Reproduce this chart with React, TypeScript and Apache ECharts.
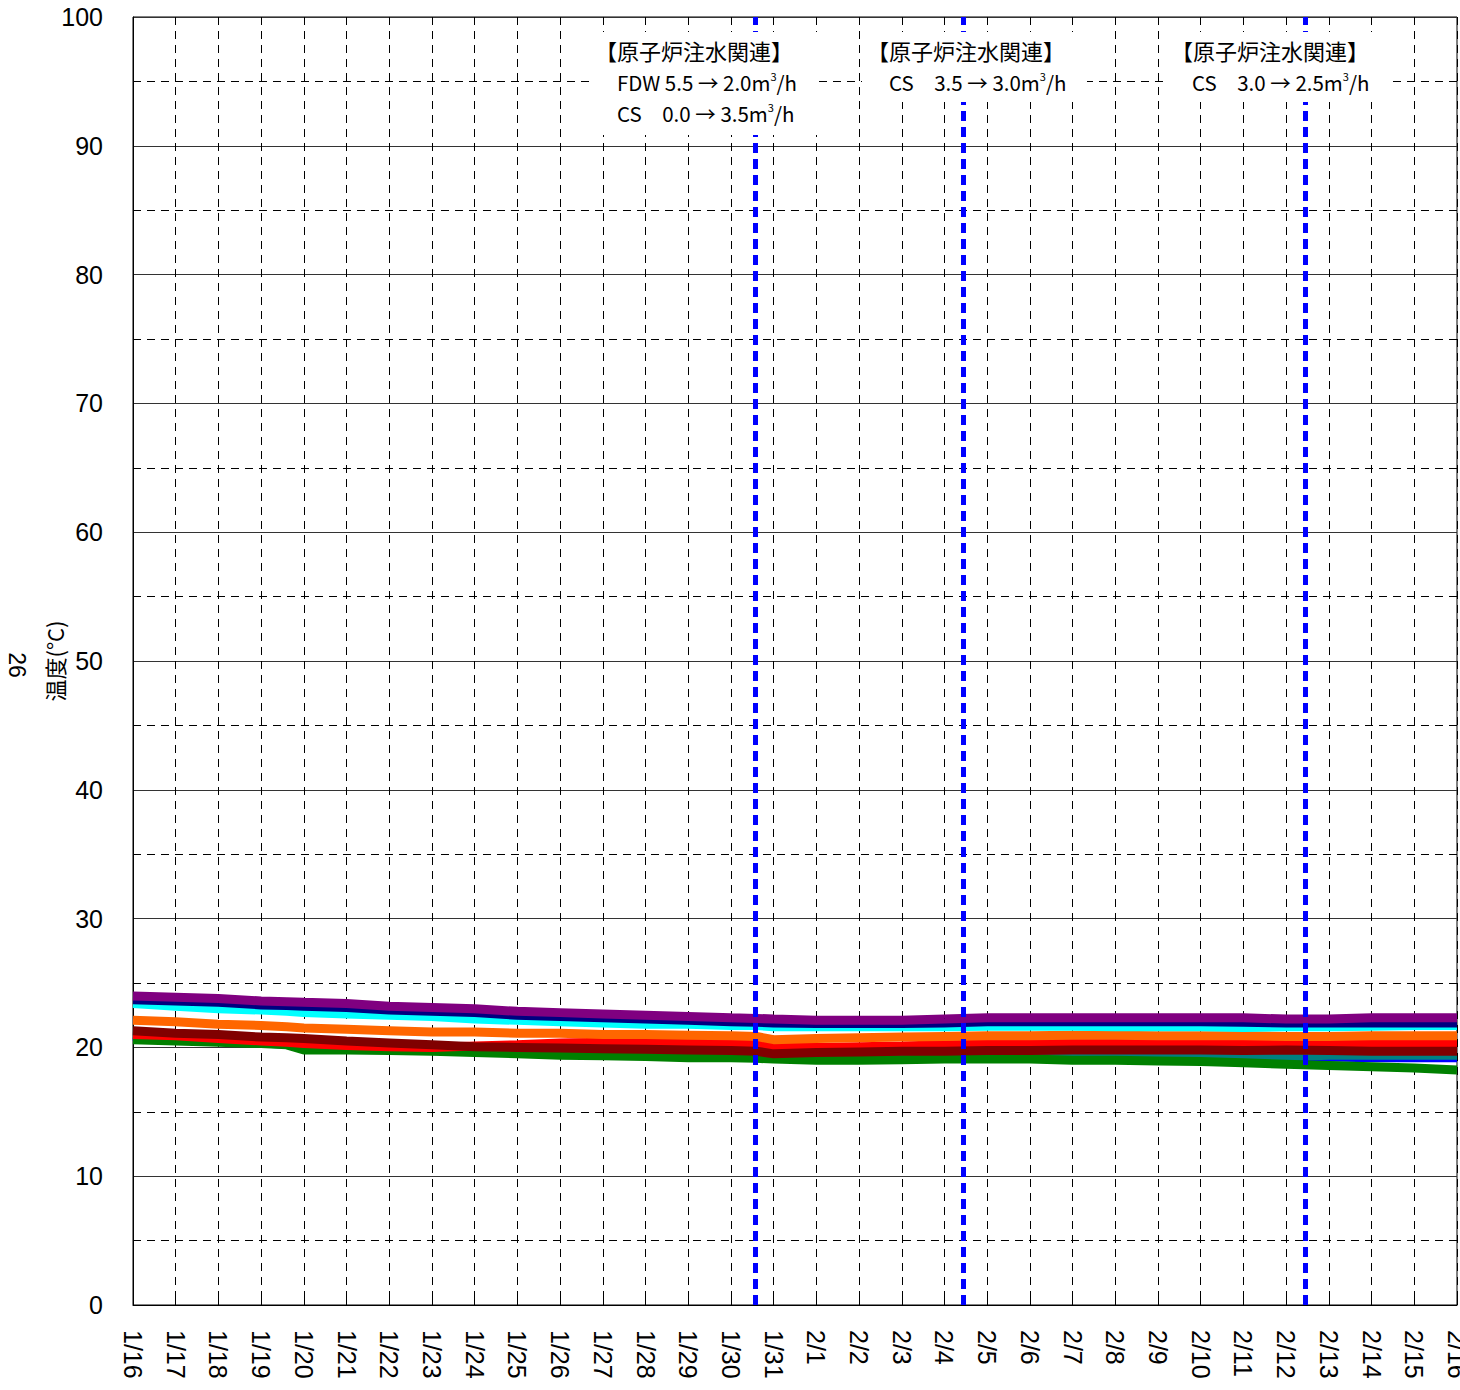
import React, { useEffect, useRef } from "react";
import * as echarts from "echarts";

const dateLabels = [
  "1/16", "1/17", "1/18", "1/19", "1/20", "1/21", "1/22", "1/23", "1/24", "1/25", "1/26",
  "1/27", "1/28", "1/29", "1/30", "1/31", "2/1", "2/2", "2/3", "2/4", "2/5", "2/6",
  "2/7", "2/8", "2/9", "2/10", "2/11", "2/12", "2/13", "2/14", "2/15", "2/16",
];

const sampleDays = [
  0, 1, 2, 3, 3.6, 4, 5, 6, 7, 8, 9, 10, 11, 12, 13, 14, 14.6, 15, 16, 17, 18, 19, 20,
  21, 22, 23, 24, 25, 26, 27, 28, 29, 30, 31,
];

const purple = [24.0, 23.9, 23.8, 23.6, 23.55, 23.5, 23.4, 23.2, 23.1, 23.0, 22.8, 22.7, 22.6, 22.5, 22.4, 22.3, 22.25, 22.2, 22.1, 22.1, 22.1, 22.2, 22.3, 22.3, 22.3, 22.3, 22.3, 22.3, 22.3, 22.2, 22.2, 22.3, 22.3, 22.3];
const navy = [23.7, 23.6, 23.5, 23.3, 23.25, 23.2, 23.1, 22.9, 22.8, 22.7, 22.5, 22.4, 22.3, 22.2, 22.1, 22.0, 21.95, 21.9, 21.85, 21.85, 21.85, 21.9, 22.0, 22.0, 22.0, 22.0, 22.0, 22.0, 21.95, 21.9, 21.9, 21.9, 21.9, 21.9];
const cyan = [23.4, 23.2, 23.0, 22.9, 22.8, 22.7, 22.6, 22.5, 22.4, 22.2, 22.1, 22.0, 21.9, 21.8, 21.8, 21.7, 21.7, 21.6, 21.6, 21.6, 21.6, 21.6, 21.65, 21.65, 21.65, 21.6, 21.6, 21.6, 21.55, 21.6, 21.6, 21.65, 21.7, 21.7];
const orange = [22.1, 22.0, 21.8, 21.7, 21.6, 21.5, 21.4, 21.3, 21.2, 21.2, 21.1, 21.1, 21.0, 21.0, 20.95, 20.9, 20.85, 20.6, 20.7, 20.75, 20.8, 20.85, 20.9, 20.9, 20.95, 20.95, 20.9, 20.9, 20.9, 20.85, 20.85, 20.9, 20.9, 20.9];
const red = [21.0, 20.9, 20.7, 20.5, 20.4, 20.3, 20.15, 20.05, 20.0, 20.1, 20.2, 20.35, 20.4, 20.4, 20.4, 20.35, 20.3, 20.0, 20.0, 20.05, 20.1, 20.2, 20.25, 20.3, 20.35, 20.35, 20.35, 20.4, 20.35, 20.35, 20.3, 20.3, 20.3, 20.3];
const darkRed = [21.3, 21.1, 21.0, 20.8, 20.75, 20.7, 20.5, 20.35, 20.2, 20.05, 20.0, 19.95, 19.9, 19.85, 19.8, 19.75, 19.7, 19.5, 19.6, 19.65, 19.7, 19.7, 19.75, 19.75, 19.8, 19.8, 19.8, 19.8, 19.75, 19.8, 19.75, 19.7, 19.7, 19.7];
const teal = [20.9, 20.7, 20.5, 20.4, 20.3, 20.3, 20.1, 20.0, 19.9, 19.8, 19.7, 19.6, 19.5, 19.5, 19.4, 19.35, 19.3, 19.2, 19.2, 19.25, 19.3, 19.3, 19.35, 19.4, 19.4, 19.4, 19.4, 19.35, 19.3, 19.3, 19.4, 19.4, 19.4, 19.4];
const blue = [20.85, 20.65, 20.45, 20.35, 20.25, 20.25, 20.05, 19.95, 19.85, 19.75, 19.65, 19.55, 19.45, 19.45, 19.35, 19.3, 19.25, 19.15, 19.15, 19.2, 19.25, 19.25, 19.3, 19.35, 19.35, 19.35, 19.3, 19.25, 19.2, 19.2, 19.25, 19.2, 19.2, 19.2];
const green = [20.6, 20.5, 20.4, 20.3, 20.2, 19.8, 19.8, 19.75, 19.7, 19.6, 19.5, 19.4, 19.35, 19.3, 19.2, 19.2, 19.15, 19.1, 19.0, 19.0, 19.05, 19.1, 19.1, 19.1, 19.0, 19.0, 18.95, 18.9, 18.8, 18.7, 18.6, 18.5, 18.4, 18.25];

// days (from 1/16 00:00) at which injection flow was changed
const eventDays = [14.58, 19.44, 27.45];

const annotationTitle = "【原子炉注水関連】";
const annotation1 = ["FDW 5.5 → 2.0m", "CS　0.0 → 3.5m"];
const annotation2 = ["CS　3.5 → 3.0m"];
const annotation3 = ["CS　3.0 → 2.5m"];

const FONT = "Liberation Sans, Noto Sans CJK JP, sans-serif";
const CJK = "Noto Sans CJK JP, sans-serif";

const seriesDefs = [
  { name: "blue", color: "#0000FF", values: blue },
  { name: "teal", color: "#008080", values: teal },
  { name: "green", color: "#008000", values: green },
  { name: "red", color: "#FF0000", values: red },
  { name: "darkred", color: "#800000", values: darkRed },
  { name: "orange", color: "#FF6600", values: orange },
  { name: "cyan", color: "#00FFFF", values: cyan },
  { name: "navy", color: "#000080", values: navy },
  { name: "purple", color: "#800080", values: purple },
];

function annotationBox(left: number, top: number, width: number, height: number, lines: string[], textLeft: number) {
  const children: any[] = [
    { type: "rect", z: 100, shape: { x: left, y: top, width, height }, style: { fill: "#ffffff", stroke: "none" } },
    {
      type: "text",
      z: 101,
      x: left + 5,
      y: top + 18,
      style: { text: annotationTitle, fontSize: 22, fontFamily: CJK, fill: "#000", verticalAlign: "middle" },
    },
  ];
  lines.forEach((ln, i) => {
    children.push({
      type: "text",
      z: 101,
      x: left + textLeft,
      y: top + 49 + i * 31,
      style: {
        text: `{a|${ln}}{s|3}{a|/h}`,
        verticalAlign: "middle",
        rich: {
          a: { fontSize: 20.5, fontFamily: CJK, fill: "#000", lineHeight: 22, verticalAlign: "bottom" },
          s: { fontSize: 11, fontFamily: CJK, fill: "#000", lineHeight: 22, verticalAlign: "top" },
        },
      },
    });
  });
  return children;
}

export default function App() {
  const ref = useRef<HTMLDivElement>(null);
  useEffect(() => {
    document.body.style.margin = "0";
    document.body.style.overflow = "hidden";
    document.documentElement.style.overflow = "hidden";
    const chart = echarts.init(ref.current!, null, { renderer: "svg", width: 1460, height: 1390 });
    const series: any[] = seriesDefs.map((s) => ({
      type: "line",
      name: s.name,
      data: sampleDays.map((d, i) => [d, s.values[i]]),
      showSymbol: false,
      symbol: "none",
      lineStyle: { color: s.color, width: 9 },
      itemStyle: { color: s.color },
      silent: true,
    }));
    series.push({
      type: "line",
      name: "events",
      data: [],
      z: 10,
      markLine: {
        silent: true,
        symbol: ["none", "none"],
        label: { show: false },
        lineStyle: { color: "#0000FF", width: 5, type: [10, 6] },
        data: eventDays.map((d) => ({ xAxis: d })),
      },
    });
    chart.setOption({
      animation: false,
      backgroundColor: "#fff",
      textStyle: { fontFamily: FONT },
      grid: {
        left: 133, right: 3, top: 17, bottom: 85,
        outerBoundsMode: "none",
        containLabel: false,
        show: true, borderColor: "#000", borderWidth: 1, backgroundColor: "transparent",
      },
      xAxis: {
        type: "value",
        min: 0,
        max: 31,
        interval: 1,
        axisLine: { lineStyle: { color: "#000", width: 1 } },
        axisTick: { inside: true, length: 12, lineStyle: { color: "#000" } },
        axisLabel: {
          rotate: -90,
          fontSize: 25,
          color: "#000",
          margin: 25,
          fontFamily: FONT,
          hideOverlap: false,
          formatter: (v: number) => dateLabels[Math.round(v)] ?? "",
        },
        splitLine: { show: true, lineStyle: { color: "#000", type: [8, 6], width: 1 } },
      },
      yAxis: {
        type: "value",
        min: 0,
        max: 100,
        interval: 10,
        name: "温度(°C)",
        nameLocation: "middle",
        nameRotate: 90,
        nameGap: 68,
        nameMoveOverlap: false,
        nameTextStyle: { fontSize: 22, color: "#000", fontFamily: CJK },
        axisLine: { show: true, lineStyle: { color: "#000", width: 1 } },
        axisTick: { show: false },
        axisLabel: { fontSize: 25, color: "#000", margin: 30, fontFamily: FONT },
        splitLine: { show: true, lineStyle: { color: "#333", width: 1 } },
        minorTick: { show: false, splitNumber: 2 },
        minorSplitLine: { show: true, lineStyle: { color: "#000", type: [8, 6], width: 1 } },
      },
      graphic: [
        {
          type: "text",
          x: 17,
          y: 665,
          rotation: -Math.PI / 2,
          z: 100,
          style: { text: "26", fontSize: 23, fontFamily: FONT, fill: "#000", align: "center", verticalAlign: "middle" },
        },
        ...annotationBox(590, 32, 228, 103, annotation1, 27),
        ...annotationBox(862, 32, 225, 70, annotation2, 27),
        ...annotationBox(1166, 32, 225, 70, annotation3, 26),
      ],
      series,
    });
    return () => chart.dispose();
  }, []);
  return <div ref={ref} style={{ width: 1460, height: 1390 }} />;
}
